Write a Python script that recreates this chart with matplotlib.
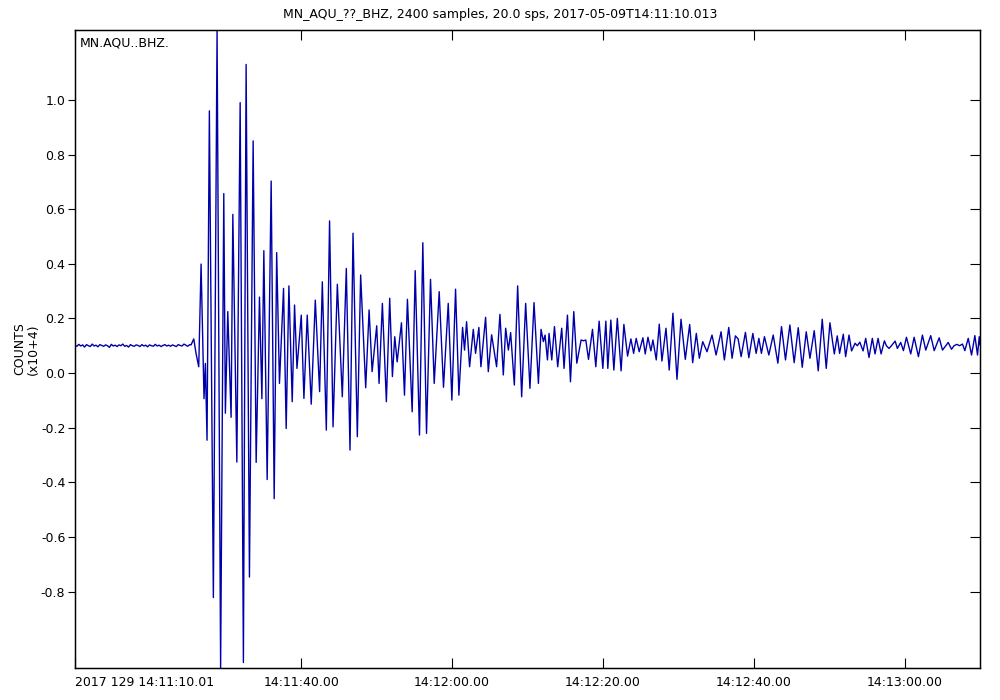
import numpy as np
import matplotlib
matplotlib.use("Agg")
import matplotlib.pyplot as plt

plt.rcParams['font.family'] = ['Liberation Sans Narrow', 'DejaVu Sans']

TITLE = "MN_AQU_??_BHZ, 2400 samples, 20.0 sps, 2017-05-09T14:11:10.013"
STATION = "MN.AQU..BHZ."
YLABEL = "COUNTS\n(x10+4)"

# pre-event noise (x10^4 counts), seconds since 14:11:10.013
noise_vals = [0.102, 0.098, 0.105, 0.099, 0.103, 0.095, 0.104, 0.100, 0.097, 0.106,
              0.099, 0.102, 0.096, 0.104, 0.101, 0.098, 0.103, 0.100, 0.094, 0.105,
              0.099, 0.102, 0.097, 0.103, 0.100, 0.106, 0.098, 0.101, 0.095, 0.104,
              0.100, 0.098, 0.103, 0.101, 0.097, 0.104, 0.099, 0.102, 0.096, 0.103,
              0.100, 0.098, 0.105, 0.099, 0.102, 0.097, 0.101, 0.104, 0.099, 0.102,
              0.098, 0.103, 0.100, 0.097, 0.104, 0.101, 0.099, 0.106, 0.102, 0.098,
              0.104]
noise_t = np.linspace(0.0, 15.2, len(noise_vals))

# event trace: times (s) and amplitudes (x10^4 counts) of successive extremes
evt_t = [15.38, 15.74, 16.04, 16.40, 16.71, 17.10, 17.28, 17.50, 17.81, 18.34,
         18.83, 19.30, 19.72, 19.93, 20.25, 20.69, 20.92, 21.45, 21.89, 22.32,
         22.68, 23.12, 23.61, 24.01, 24.45, 24.77, 25.03, 25.47, 26.00, 26.40,
         26.73, 27.10, 27.64, 27.99, 28.35, 28.79, 29.10, 29.42, 29.99, 30.34,
         30.78, 31.31, 31.85, 32.42, 32.78, 33.31, 33.74, 34.20, 34.77, 35.43,
         35.96, 36.45, 36.85, 37.42, 37.86, 38.53, 38.98, 39.38, 39.99, 40.30,
         40.74, 41.27, 41.71, 42.07, 42.38, 42.70, 43.27, 43.67, 44.06, 44.69,
         45.09, 45.66, 46.10, 46.59, 47.12, 47.61, 48.27, 48.84, 49.47, 49.95,
         50.44, 50.88, 51.37, 51.63, 51.90, 52.30, 52.79, 53.09, 53.53, 53.80,
         54.42, 54.78, 55.22, 55.88, 56.32, 56.77, 57.08, 57.44, 57.74, 58.23,
         58.67, 59.20, 59.73, 60.30, 60.84, 61.42, 61.77, 62.08, 62.30, 62.62,
         62.83, 63.19, 63.55, 63.98, 64.51, 64.82, 65.27, 65.67, 66.11, 66.51,
         67.08, 67.40, 67.70, 68.06, 68.59, 69.03, 69.47, 69.96, 70.36, 70.62,
         71.02, 71.42, 71.88, 72.38, 72.75, 73.24, 73.68, 74.04, 74.38, 74.78,
         75.27, 75.58, 75.94, 76.33, 76.60, 77.04, 77.44, 77.79, 78.33, 78.76,
         79.25, 79.79, 80.32, 80.89, 81.47, 81.87, 82.35, 82.75, 83.20, 83.77,
         84.43, 84.97, 85.63, 86.07, 86.65, 87.09, 87.53, 87.89, 88.29, 88.86,
         89.31, 89.84, 90.28, 90.64, 90.98, 91.38, 91.96, 92.54, 93.16, 93.64,
         94.17, 94.75, 95.32, 95.86, 96.39, 96.92, 97.41, 97.98, 98.51, 99.04,
         99.57, 100.06, 100.64, 101.03, 101.34, 101.83, 102.14, 102.59, 102.93, 103.39,
         103.69, 104.02, 104.45, 104.80, 105.24, 105.68, 106.04, 106.44, 106.84, 107.28,
         107.54, 107.90, 108.21, 108.70, 109.00, 109.44, 109.80, 110.20, 110.77, 111.22,
         111.79, 112.32, 112.76, 113.42, 113.88, 114.54, 114.98, 115.74, 116.17, 116.51,
         116.88, 117.24, 117.63, 117.94, 118.39, 118.83, 119.27, 119.62, 119.85, 119.95]
evt_v = [0.103, 0.125, 0.072, 0.023, 0.399, -0.094, 0.035, -0.246, 0.960, -0.822,
         1.256, -1.080, 0.657, -0.147, 0.225, -0.162, 0.581, -0.326, 0.990, -1.060,
         1.130, -0.747, 0.850, -0.327, 0.278, -0.094, 0.448, -0.390, 0.703, -0.460,
         0.441, -0.038, 0.310, -0.203, 0.319, -0.105, 0.249, 0.017, 0.212, -0.093,
         0.212, -0.114, 0.267, -0.068, 0.334, -0.209, 0.557, -0.197, 0.325, -0.087,
         0.383, -0.282, 0.512, -0.233, 0.359, -0.054, 0.231, 0.005, 0.173, -0.038,
         0.255, -0.105, 0.274, -0.013, 0.133, 0.041, 0.184, -0.081, 0.270, -0.142,
         0.375, -0.227, 0.477, -0.221, 0.343, -0.038, 0.298, -0.052, 0.255, -0.099,
         0.307, -0.081, 0.167, 0.084, 0.188, 0.023, 0.160, 0.072, 0.167, 0.023,
         0.204, 0.005, 0.140, 0.023, 0.215, -0.007, 0.164, 0.084, 0.148, -0.044,
         0.319, -0.087, 0.255, -0.056, 0.258, -0.038, 0.160, 0.115, 0.139, 0.048,
         0.145, 0.048, 0.170, 0.023, 0.164, 0.017, 0.212, -0.032, 0.225, 0.036,
         0.121, 0.118, 0.121, 0.050, 0.160, 0.023, 0.190, 0.017, 0.190, 0.017,
         0.194, 0.011, 0.200, 0.008, 0.178, 0.062, 0.125, 0.072, 0.127, 0.078,
         0.129, 0.070, 0.131, 0.081, 0.121, 0.048, 0.179, 0.044, 0.164, 0.011,
         0.219, -0.023, 0.197, 0.050, 0.178, 0.038, 0.145, 0.054, 0.115, 0.078,
         0.139, 0.066, 0.151, 0.048, 0.167, 0.054, 0.136, 0.125, 0.060, 0.149,
         0.056, 0.145, 0.072, 0.127, 0.072, 0.133, 0.066, 0.139, 0.036, 0.170,
         0.048, 0.176, 0.038, 0.166, 0.021, 0.151, 0.054, 0.155, 0.008, 0.197,
         0.017, 0.184, 0.070, 0.136, 0.072, 0.142, 0.060, 0.139, 0.081, 0.109,
         0.100, 0.113, 0.081, 0.127, 0.057, 0.127, 0.070, 0.127, 0.070, 0.118,
         0.100, 0.090, 0.100, 0.117, 0.090, 0.112, 0.082, 0.131, 0.070, 0.131,
         0.060, 0.139, 0.084, 0.137, 0.082, 0.129, 0.084, 0.112, 0.087, 0.100,
         0.105, 0.100, 0.106, 0.082, 0.127, 0.066, 0.137, 0.066, 0.133, 0.103]

tick_t = [29.987, 49.987, 69.987, 89.987, 109.987]
tick_labels = ["14:11:40.00", "14:12:00.00", "14:12:20.00", "14:12:40.00", "14:13:00.00"]
start_label = "2017 129 14:11:10.01"
ytick_vals = [1.0, 0.8, 0.6, 0.4, 0.2, 0.0, -0.2, -0.4, -0.6, -0.8]

t = np.concatenate([noise_t, np.array(evt_t)])
v = np.concatenate([np.array(noise_vals), np.array(evt_v)])

FS = 9

fig = plt.figure(figsize=(10, 7), dpi=100)
ax = fig.add_axes([0.075, 1 - 668 / 700, 0.905, (668 - 30) / 700])
ax.plot(t, v, color='#0000AA', lw=1.0)
ax.set_xlim(0, 119.95)
ax.set_ylim(v.min(), v.max())

ax.set_xticks([0.0] + tick_t)
ax.set_xticklabels([start_label] + tick_labels)
ax.get_xticklabels()[0].set_horizontalalignment('left')
ax.set_yticks(ytick_vals)
ax.set_yticklabels([f"{y:.1f}" for y in ytick_vals])
ax.tick_params(axis='x', direction='in', length=7, top=True, labelsize=FS, pad=6)
ax.tick_params(axis='y', direction='out', length=5, right=False, labelsize=FS, pad=2)
ax2 = ax.twinx()
ax2.set_ylim(ax.get_ylim())
ax2.set_yticks(ytick_vals)
ax2.tick_params(axis='y', direction='in', length=7, labelright=False)
for sp in ax.spines.values():
    sp.set_linewidth(1.0)

ax.set_ylabel(YLABEL, fontsize=FS, labelpad=1, linespacing=1.05)
ax.text(0.005, 0.99, STATION, transform=ax.transAxes, ha='left', va='top', fontsize=FS)
fig.suptitle(TITLE, y=0.988, fontsize=FS)

fig.savefig("out.png", dpi=100)
